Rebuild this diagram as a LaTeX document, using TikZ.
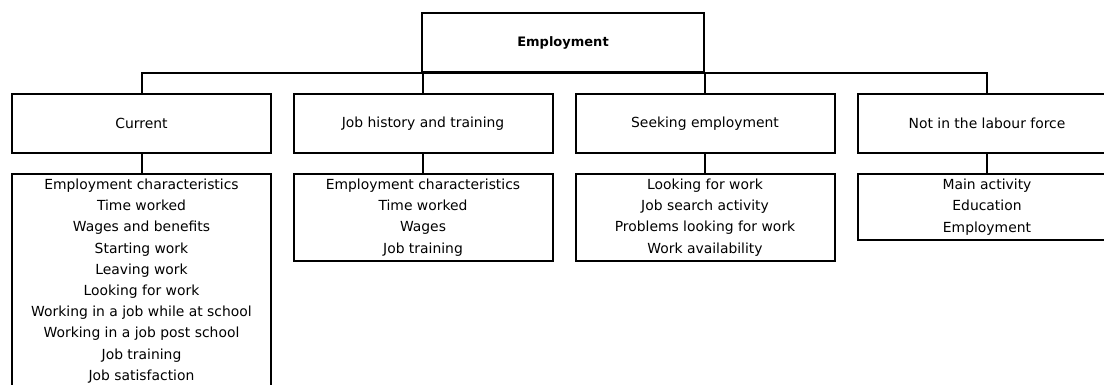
\documentclass[tikz,border=0pt]{standalone}
\usepackage{fontspec}
\setmainfont{DejaVu Sans}
\begin{document}
\begin{tikzpicture}[x=1pt, y=-1pt,
		box/.style={draw, line width=2pt, minimum width=259pt, inner sep=0pt, align=center, anchor=north, font=\fontsize{13.9}{21.2}\selectfont},
		head/.style={box, minimum height=59pt},
		conn/.style={line width=2pt}]
			\clip (0,0) rectangle (1104,385);
			\node (employment) [head, minimum width=282pt, font=\fontsize{13}{16}\selectfont\bfseries] at (563,12) {Employment};
			\node (current) [head] at (141.5,93) {Current};
			\node (history) [head] at (423,93) {Job history and training};
			\node (seeking) [head] at (705,93) {Seeking employment};
			\node (notlf) [head] at (987,93) {Not in the labour force};
			\node (currentlist) [box, minimum height=214pt] at (141.5,173) {
				Employment characteristics \\ Time worked \\ Wages and benefits \\ Starting work \\ Leaving work \\
				Looking for work \\ Working in a job while at school \\ Working in a job post school \\ Job training \\ Job satisfaction
			};
			\node (historylist) [box, minimum height=87pt] at (423,173) {Employment characteristics \\ Time worked \\ Wages \\ Job training};
			\node (seekinglist) [box, minimum height=87pt] at (705,173) {Looking for work \\ Job search activity \\ Problems looking for work \\ Work availability};
			\node (notlflist) [box, minimum height=66pt] at (987,173) {Main activity \\ Education \\ Employment};
			\draw [conn] (current.north) -- (current.north |- employment.south) -- (notlf.north |- employment.south) -- (notlf.north);
			\draw [conn] (history.north) -- (history.north |- employment.south);
			\draw [conn] (seeking.north) -- (seeking.north |- employment.south);
			\foreach \n in {current, history, seeking, notlf}
				\draw [conn] (\n.south) -- (\n list.north);
		\end{tikzpicture}
\end{document}
